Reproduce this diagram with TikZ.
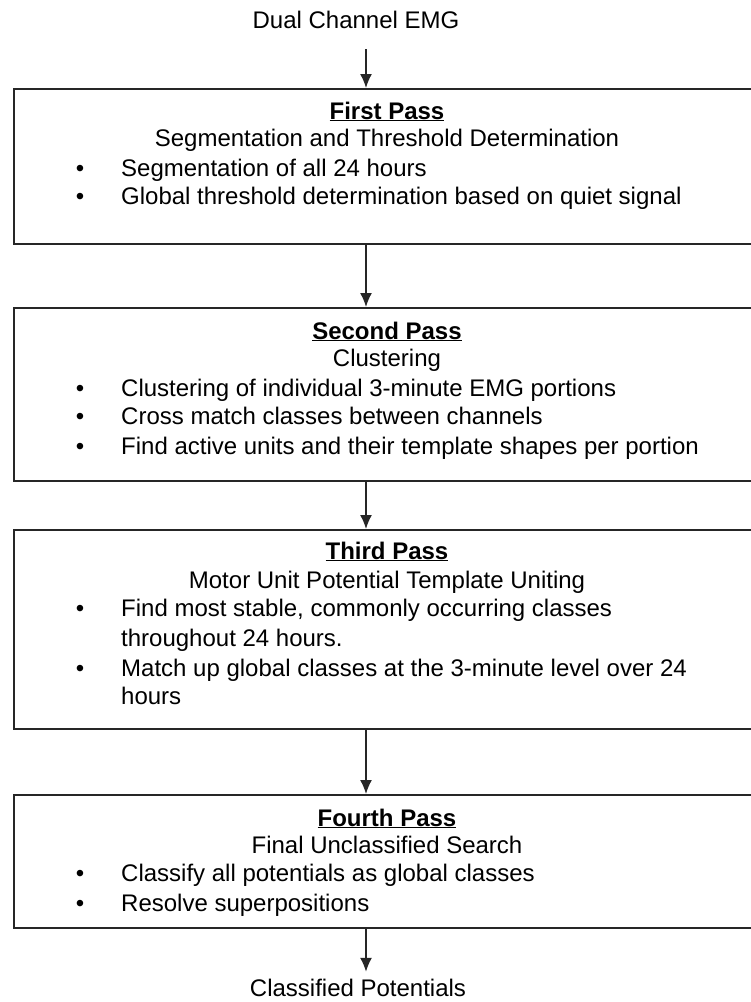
\documentclass[tikz,border=0pt]{standalone}
\usepackage{fontspec}
\setmainfont{Liberation Sans}
\usetikzlibrary{arrows.meta,calc}
\begin{document}
\begin{tikzpicture}[x=1pt,y=-1pt,
  box/.style={draw=black!85, line width=1.8pt, minimum width=748pt, anchor=north west, inner sep=0pt},
  arr/.style={-{Latex[length=14pt,width=12pt]}, line width=1.5pt, draw=black!85},
  txt/.style={font=\fontsize{24}{28}\selectfont, inner sep=0pt, text height=17pt, text depth=5pt},
  ttl/.style={txt, font=\fontsize{24}{28}\selectfont\bfseries},
  bl/.style={txt, anchor=west},
  dot/.style={txt}]
\useasboundingbox (0,0) rectangle (751,1002);
\coordinate (ax) at (366,0);
% input / output
\node[txt] (in) at (356,22) {Dual Channel EMG};
\node[txt] (out) at (358,990) {Classified Potentials};
% boxes
\node[box, minimum height=155pt] (b1) at (13,88) {};
\node[box, minimum height=173pt] (b2) at (13,307) {};
\node[box, minimum height=199pt] (b3) at (13,529) {};
\node[box, minimum height=133pt] (b4) at (13,794) {};
% box 1
\node[ttl] (t1) at (387,113) {\underline{First Pass}};
\node[txt] (s1) at (387,140) {Segmentation and Threshold Determination};
\node[dot] (d11) at (80,170) {•};
\node[bl] (l11) at (121,170) {Segmentation of all 24 hours};
\node[dot] (d12) at (80,198) {•};
\node[bl] (l12) at (121,198) {Global threshold determination based on quiet signal};
% box 2
\node[ttl] (t2) at (387,333) {\underline{Second Pass}};
\node[txt] (s2) at (387,360) {Clustering};
\node[dot] (d21) at (80,390) {•};
\node[bl] (l21) at (121,390) {Clustering of individual 3-minute EMG portions};
\node[dot] (d22) at (80,418) {•};
\node[bl] (l22) at (121,418) {Cross match classes between channels};
\node[dot] (d23) at (80,448) {•};
\node[bl] (l23) at (121,448) {Find active units and their template shapes per portion};
% box 3
\node[ttl] (t3) at (387,553) {\underline{Third Pass}};
\node[txt] (s3) at (387,582) {Motor Unit Potential Template Uniting};
\node[dot] (d31) at (80,610) {•};
\node[bl] (l31) at (121,610) {Find most stable, commonly occurring classes};
\node[bl] (l31b) at (121,640) {throughout 24 hours.};
\node[dot] (d32) at (80,670) {•};
\node[bl] (l32) at (121,670) {Match up global classes at the 3-minute level over 24};
\node[bl] (l32b) at (121,698) {hours};
% box 4
\node[ttl] (t4) at (387,820) {\underline{Fourth Pass}};
\node[txt] (s4) at (387,847) {Final Unclassified Search};
\node[dot] (d41) at (80,875) {•};
\node[bl] (l41) at (121,875) {Classify all potentials as global classes};
\node[dot] (d42) at (80,905) {•};
\node[bl] (l42) at (121,905) {Resolve superpositions};
% arrows
\draw[arr] ($(in.south -| ax)+(0,16)$) -- (b1.north -| ax);
\draw[arr] (b1.south -| ax) -- (b2.north -| ax);
\draw[arr] (b2.south -| ax) -- (b3.north -| ax);
\draw[arr] (b3.south -| ax) -- (b4.north -| ax);
\draw[arr] (b4.south -| ax) -- ($(out.north -| ax)+(0,-7)$);
\end{tikzpicture}
\end{document}
